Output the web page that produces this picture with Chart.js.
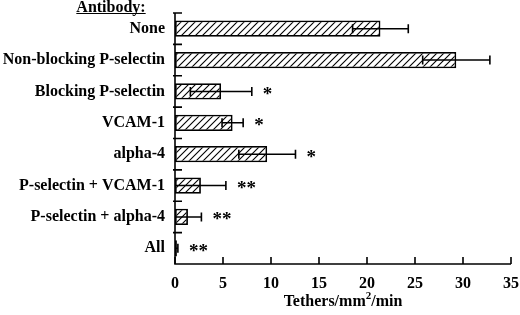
<!DOCTYPE html>
<html>
<head>
<meta charset="utf-8">
<script src="https://cdn.jsdelivr.net/npm/chart.js@4.4.1/dist/chart.umd.min.js"></script>
<style>
  html, body { margin: 0; padding: 0; background: #fff; }
  #wrap { width: 520px; height: 315px; }
</style>
</head>
<body>
<div id="wrap"><canvas id="chart" width="520" height="315"></canvas></div>
<script>
const antibodies = ['None', 'Non-blocking P-selectin', 'Blocking P-selectin', 'VCAM-1', 'alpha-4',
  'P-selectin + VCAM-1', 'P-selectin + alpha-4', 'All'];
const tethers = [21.4, 29.3, 4.8, 6.0, 9.6, 2.7, 1.35, 0.2];
const tethersErr = [2.9, 3.5, 3.2, 1.1, 2.95, 2.6, 1.4, 0.1];
const significance = ['', '', '*', '*', '*', '**', '**', '**'];
const xTicks = [0, 5, 10, 15, 20, 25, 30, 35];

const FONT = '"Liberation Serif", "Times New Roman", serif';

// diagonal hatch fill
function makeHatch() {
  const c = document.createElement('canvas');
  c.width = 7; c.height = 7;
  const g = c.getContext('2d');
  g.fillStyle = '#fff';
  g.fillRect(0, 0, 7, 7);
  g.strokeStyle = '#000';
  g.lineWidth = 1.1;
  g.beginPath();
  g.moveTo(-1, 8); g.lineTo(8, -1);
  g.moveTo(-1, 1); g.lineTo(1, -1);
  g.moveTo(6, 8); g.lineTo(8, 6);
  g.stroke();
  return g.createPattern(c, 'repeat');
}

const extras = {
  id: 'extras',
  afterDatasetsDraw(chart) {
    const ctx = chart.ctx;
    const xs = chart.scales.x, ys = chart.scales.y;
    const area = chart.chartArea;
    ctx.save();
    ctx.strokeStyle = '#000';
    ctx.fillStyle = '#000';
    ctx.lineWidth = 1.6;

    // error bars + significance marks
    tethers.forEach((v, i) => {
      const y = ys.getPixelForValue(i);
      const lo = xs.getPixelForValue(Math.max(0, v - tethersErr[i]));
      const hi = xs.getPixelForValue(v + tethersErr[i]);
      ctx.beginPath();
      ctx.moveTo(lo, y); ctx.lineTo(hi, y);
      ctx.moveTo(hi, y - 4.5); ctx.lineTo(hi, y + 4.5);
      if (v - tethersErr[i] > 0.3) {
        ctx.moveTo(lo, y - 4.5); ctx.lineTo(lo, y + 4.5);
      }
      ctx.stroke();
      if (significance[i]) {
        ctx.font = 'bold 19px ' + FONT;
        ctx.textAlign = 'left';
        ctx.textBaseline = 'alphabetic';
        ctx.fillText(significance[i], hi + 11, y + 8.5);
      }
    });

    // axis lines
    ctx.beginPath();
    ctx.moveTo(area.left, area.top); ctx.lineTo(area.left, area.bottom);
    ctx.lineTo(area.right, area.bottom);
    ctx.stroke();

    // inward ticks on x
    ctx.beginPath();
    xTicks.forEach(t => {
      const x = xs.getPixelForValue(t);
      ctx.moveTo(x, area.bottom); ctx.lineTo(x, area.bottom - 7);
    });
    // category boundary ticks on y
    for (let i = 0; i < antibodies.length; i++) {
      const yb = i === 0 ? area.top : (ys.getPixelForValue(i) + ys.getPixelForValue(i - 1)) / 2;
      ctx.moveTo(area.left - 2, yb); ctx.lineTo(area.left + 7, yb);
    }
    ctx.stroke();

    // header
    ctx.font = 'bold 16px ' + FONT;
    ctx.textAlign = 'center';
    ctx.textBaseline = 'alphabetic';
    ctx.fillText('Antibody:', 111, 11.5);
    const w = ctx.measureText('Antibody:').width;
    ctx.lineWidth = 1.2;
    ctx.beginPath();
    ctx.moveTo(111 - w / 2, 13.5); ctx.lineTo(111 + w / 2, 13.5);
    ctx.stroke();

    // axis title with superscript
    const cx = (area.left + area.right) / 2, by = 306;
    const big = 'bold 16px ' + FONT, small = 'bold 11px ' + FONT;
    ctx.font = big;
    const w1 = ctx.measureText('Tethers/mm').width, w3 = ctx.measureText('/min').width;
    ctx.font = small;
    const w2 = ctx.measureText('2').width;
    let x0 = cx - (w1 + w2 + w3) / 2;
    ctx.textAlign = 'left';
    ctx.font = big; ctx.fillText('Tethers/mm', x0, by);
    ctx.font = small; ctx.fillText('2', x0 + w1, by - 7);
    ctx.font = big; ctx.fillText('/min', x0 + w1 + w2, by);
    ctx.restore();
  }
};

new Chart(document.getElementById('chart'), {
  type: 'bar',
  data: {
    labels: antibodies,
    datasets: [{
      data: tethers,
      backgroundColor: makeHatch(),
      borderColor: '#000',
      borderWidth: 1.8,
      borderSkipped: false,
      barPercentage: 0.52,
      categoryPercentage: 1
    }]
  },
  plugins: [extras],
  options: {
    indexAxis: 'y',
    responsive: false,
    animation: false,
    layout: { padding: { top: 13, right: 9, left: 0, bottom: 0 } },
    plugins: { legend: { display: false }, tooltip: { enabled: false } },
    scales: {
      y: {
        grid: { display: false, drawTicks: false },
        border: { display: false },
        ticks: { color: '#000', padding: 10, font: { family: FONT, size: 16, weight: 'bold' } },
        afterFit(s) { s.width = 175; s.paddingTop = 0; s.paddingBottom = 0; }
      },
      x: {
        min: 0, max: 35,
        grid: { display: false, drawTicks: false },
        border: { display: false },
        afterBuildTicks(s) { s.ticks = xTicks.map(v => ({ value: v })); },
        ticks: { color: '#000', padding: 10, maxRotation: 0, font: { family: FONT, size: 16, weight: 'bold' } },
        afterFit(s) { s.height = 51; s.paddingLeft = 0; s.paddingRight = 0; }
      }
    }
  }
});
</script>
</body>
</html>
